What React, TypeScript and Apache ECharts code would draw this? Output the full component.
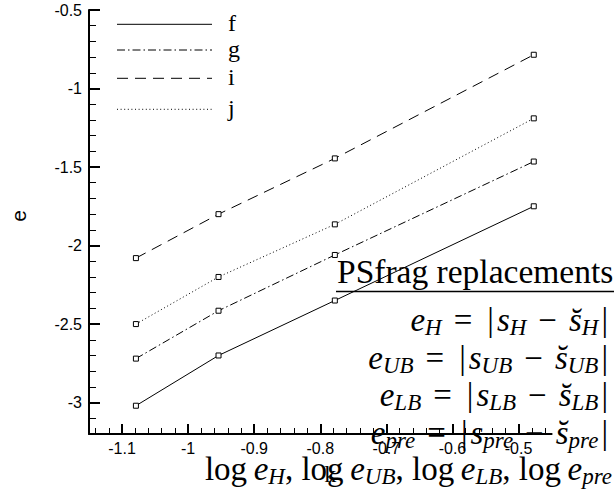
import React, { useEffect, useRef } from "react";
import * as echarts from "echarts";

const XS = [-1.079, -0.954, -0.778, -0.477];
const F = [-3.02, -2.7, -2.35, -1.75];
const G = [-2.72, -2.415, -2.06, -1.465];
const I = [-2.08, -1.8, -1.445, -0.785];
const J = [-2.5, -2.2, -1.865, -1.19];
const SERIES_NAMES = ["f", "g", "i", "j"];
const SERIES_VALUES = [F, G, I, J];
const DASHES: (number[] | "solid")[] = ["solid", [8, 3, 1.5, 3], [11, 7], [1, 2.6]];

const X_MAJOR = [-1.1, -1, -0.9, -0.8, -0.7, -0.6, -0.5];
const X_MINOR = [
  -1.14, -1.12, -1.08, -1.06, -1.04, -1.02, -0.98, -0.96, -0.94, -0.92, -0.88, -0.86, -0.84, -0.82,
  -0.78, -0.76, -0.74, -0.72, -0.68, -0.66, -0.64, -0.62, -0.58, -0.56, -0.54, -0.52, -0.48, -0.46,
];
const Y_MAJOR = [-3, -2.5, -2, -1.5, -1, -0.5];
const Y_MINOR = [
  -3.1, -2.9, -2.8, -2.7, -2.6, -2.4, -2.3, -2.2, -2.1, -1.9, -1.8, -1.7, -1.6, -1.4, -1.3, -1.2, -1.1,
  -0.9, -0.8, -0.7, -0.6,
];
const SUBS = ["H", "UB", "LB", "pre"];

const SERIF = "'Liberation Serif', 'Times New Roman', serif";
const SANS = "'Liberation Sans', Arial, sans-serif";

export default function App() {
  const ref = useRef<HTMLDivElement>(null);
  useEffect(() => {
    if (!ref.current) return;
    const chart = echarts.init(ref.current, null, { renderer: "svg" });
    const xMin = -1.15, xMax = -0.45, yMin = -3.2, yMax = -0.5;

    const rich = {
      v: { fontFamily: SERIF, fontStyle: "italic", fontSize: 33, lineHeight: 38, verticalAlign: "middle", color: "#000" },
      u: { fontFamily: SERIF, fontSize: 33, lineHeight: 38, verticalAlign: "middle", color: "#000" },
      s: { fontFamily: SERIF, fontStyle: "italic", fontSize: 23, lineHeight: 18, verticalAlign: "bottom", color: "#000" },
      op: { fontFamily: SERIF, fontSize: 33, lineHeight: 38, verticalAlign: "middle", padding: [0, 12, 0, 12], color: "#000" },
      bar: { fontFamily: SERIF, fontSize: 33, lineHeight: 38, verticalAlign: "middle", padding: [0, 3, 0, 3], color: "#000" },
    };

    const mathRows = SUBS.map((s, k) => ({
      type: "text",
      z: 100,
      style: {
        x: 611,
        y: 320 + k * 37.5,
        align: "right",
        verticalAlign: "middle",
        text: `{v|e}{s|${s}}{op|=}{bar||}{v|s}{s|${s}}{op|\u2212}{v|s\u0306}{s|${s}}{bar||}`,
        rich,
      },
    }));
    const logText = SUBS.map((s) => `{u|log\u2009}{v|e}{s|${s}}`).join("{u|, }");

    const legendEls: any[] = [];
    const legendY = [24.3, 50, 78.3, 109.3];
    SERIES_NAMES.forEach((n, k) => {
      legendEls.push({
        type: "line",
        z: 100,
        shape: { x1: 117, y1: legendY[k], x2: 212, y2: legendY[k] },
        style: { stroke: "#000", lineWidth: 1, lineDash: DASHES[k] === "solid" ? null : DASHES[k] },
      });
      legendEls.push({
        type: "text",
        z: 100,
        style: {
          x: 228, y: legendY[k] - 1, text: n, fontFamily: SERIF, fontSize: 24, fill: "#000",
          verticalAlign: "middle", align: "left",
        },
      });
    });

    chart.setOption({
      animation: false,
      backgroundColor: "#fff",
      grid: { left: 84, top: 10, right: 62.4, bottom: 52.5, containLabel: false },
      xAxis: [
        {
          type: "value", min: xMin, max: xMax, position: "bottom",
          name: "k", nameLocation: "middle", nameGap: 28,
          nameTextStyle: { fontFamily: SERIF, fontSize: 24, color: "#000", padding: [0, 0, 0, 20] },
          axisLine: { show: true, onZero: false, lineStyle: { color: "#000", width: 2 } },
          axisTick: { show: true, inside: true, length: 10, customValues: X_MAJOR, lineStyle: { color: "#000", width: 2 } },
          axisLabel: { show: true, customValues: X_MAJOR, margin: 6, fontFamily: SANS, fontSize: 16, color: "#000" },
          splitLine: { show: false },
        },
        {
          type: "value", min: xMin, max: xMax, position: "bottom",
          axisLine: { show: false },
          axisTick: { show: true, inside: true, length: 6, customValues: X_MINOR, lineStyle: { color: "#000", width: 1 } },
          axisLabel: { show: false },
          splitLine: { show: false },
        },
      ],
      yAxis: [
        {
          type: "value", min: yMin, max: yMax, position: "left",
          name: "e", nameLocation: "middle", nameGap: 60, nameRotate: 90,
          nameTextStyle: { fontFamily: SANS, fontSize: 21, color: "#000", padding: [0, 0, 0, 12] },
          axisLine: { show: true, onZero: false, lineStyle: { color: "#000", width: 2 } },
          axisTick: { show: true, inside: true, length: 11, customValues: Y_MAJOR, lineStyle: { color: "#000", width: 2 } },
          axisLabel: { show: true, customValues: Y_MAJOR, margin: 7, fontFamily: SANS, fontSize: 16, color: "#000" },
          splitLine: { show: false },
        },
        {
          type: "value", min: yMin, max: yMax, position: "left",
          axisLine: { show: false },
          axisTick: { show: true, inside: true, length: 7, customValues: Y_MINOR, lineStyle: { color: "#000", width: 1 } },
          axisLabel: { show: false },
          splitLine: { show: false },
        },
      ],
      series: SERIES_NAMES.map((n, k) => ({
        name: n,
        type: "line",
        xAxisIndex: 0,
        yAxisIndex: 0,
        data: XS.map((x, m) => [x, SERIES_VALUES[k][m]]),
        symbol: "rect",
        symbolSize: 5,
        showSymbol: true,
        itemStyle: { color: "#fff", borderColor: "#000", borderWidth: 1 },
        lineStyle: { color: "#000", width: 1, type: DASHES[k] },
        z: 3,
      })),
      graphic: [
        ...legendEls,
        {
          type: "text", z: 100,
          style: { x: 337, y: 271, text: "PSfrag replacements", fontFamily: SERIF, fontSize: 33.5, fill: "#000", verticalAlign: "middle", align: "left" },
        },
        { type: "line", z: 100, shape: { x1: 336, y1: 291.5, x2: 614, y2: 291.5 }, style: { stroke: "#000", lineWidth: 1.5 } },
        ...mathRows,
        {
          type: "text", z: 100,
          style: { x: 612, y: 469, align: "right", verticalAlign: "middle", text: logText, rich },
        },
      ],
    });
    return () => chart.dispose();
  }, []);
  return (
    <div
      ref={ref}
      style={{ position: "fixed", left: 0, top: 0, width: 614, height: 491, background: "#fff" }}
    />
  );
}
